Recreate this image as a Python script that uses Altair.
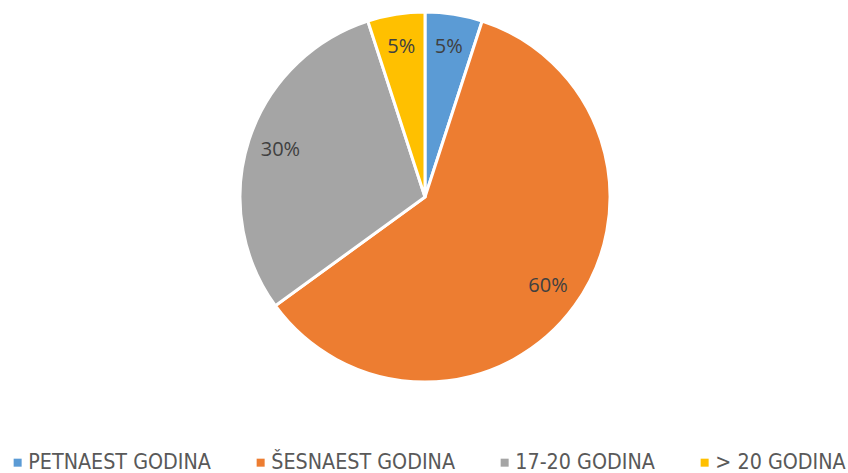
import altair as alt
import pandas as pd

categories = ["PETNAEST GODINA", "ŠESNAEST GODINA", "17-20 GODINA", "> 20 GODINA"]
values = [5, 60, 30, 5]
labels = ["5%", "60%", "30%", "5%"]
colors = ["#5B9BD5", "#ED7D31", "#A5A5A5", "#FFC000"]

df = pd.DataFrame({"cat": categories, "val": values, "lab": labels, "ord": list(range(len(categories)))})

base = alt.Chart(df).encode(
    theta=alt.Theta("val:Q", stack=True),
    order=alt.Order("ord:Q"),
    x=alt.value(425),
    y=alt.value(197),
)

pie = base.mark_arc(outerRadius=185, stroke="white", strokeWidth=3).encode(
    color=alt.Color(
        "cat:N",
        scale=alt.Scale(domain=categories, range=colors),
        sort=categories,
        legend=alt.Legend(
            title=None,
            orient="none",
            legendX=7,
            legendY=452,
            direction="horizontal",
            symbolType="square",
            symbolSize=64,
            symbolStrokeWidth=0,
            labelFontSize=21.3,
            labelFont="DejaVu Sans Condensed, sans-serif",
            labelColor="#595959",
            columnPadding=39,
            labelOffset=0,
            labelLimit=400,
        ),
    )
)

text = base.mark_text(radius=152, fontSize=20, font="Open Sans", color="#404040").encode(
    text="lab:N"
)

chart = (pie + text).properties(
    width=848, height=473, autosize=alt.AutoSizeParams(type="none"), padding=0
).configure_view(stroke=None)

chart.save("out.html", embed_options={"renderer": "svg", "actions": False})
